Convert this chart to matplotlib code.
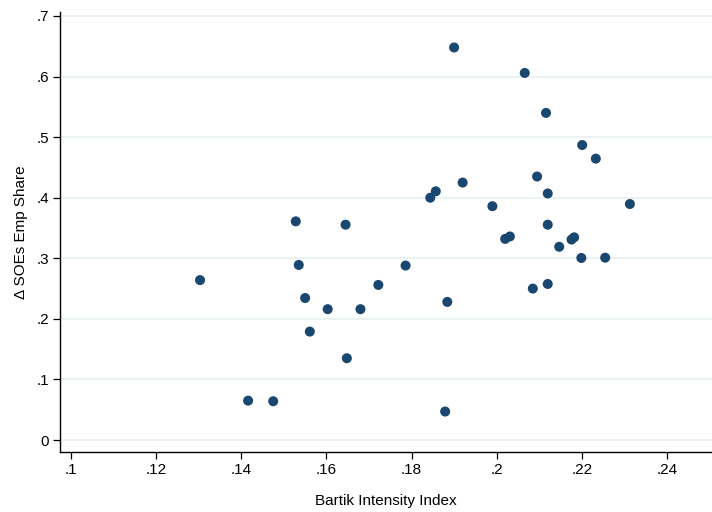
import matplotlib
matplotlib.use("Agg")
from matplotlib import pyplot as plt
import numpy as np

# Bartik intensity vs change in SOE employment share
bartik = [0.1900, 0.2066, 0.2116, 0.2201, 0.2233, 0.2095, 0.1920, 0.1857,
          0.1844, 0.2120, 0.1990, 0.2313, 0.1528, 0.1645, 0.2120, 0.2020,
          0.2031, 0.2176, 0.2182, 0.2147, 0.2199, 0.2255, 0.1535, 0.1786,
          0.1303, 0.1722, 0.2085, 0.2120, 0.1550, 0.1884, 0.1603, 0.1680,
          0.1561, 0.1648, 0.1416, 0.1475, 0.1879]
soe_share = [0.648, 0.606, 0.540, 0.487, 0.4645, 0.435, 0.425, 0.4106,
             0.400, 0.407, 0.386, 0.3896, 0.361, 0.3555, 0.3555, 0.332,
             0.336, 0.331, 0.3346, 0.319, 0.3005, 0.301, 0.289, 0.288,
             0.264, 0.256, 0.250, 0.2576, 0.2344, 0.228, 0.216, 0.216,
             0.179, 0.135, 0.065, 0.064, 0.047]

xticks = [0.10, 0.12, 0.14, 0.16, 0.18, 0.20, 0.22, 0.24]
xlabels = ['.1', '.12', '.14', '.16', '.18', '.2', '.22', '.24']
yticks = [0, 0.1, 0.2, 0.3, 0.4, 0.5, 0.6, 0.7]
ylabels = ['0', '.1', '.2', '.3', '.4', '.5', '.6', '.7']

plt.rcParams['font.family'] = ['Liberation Sans', 'DejaVu Sans']

fig = plt.figure(figsize=(7.12, 5.12), dpi=100)
# axes box in pixels: left 60, right 712, top 12, bottom 452
ax = fig.add_axes([60/712, (512-452)/512, 652/712, 440/512])

ax.scatter(bartik, soe_share, s=52, color='#1a476f', edgecolors='none', zorder=3)

ax.set_xlim(0.0974, 0.2506)
ax.set_ylim(-0.0198, 0.7066)
ax.set_xticks(xticks)
ax.set_xticklabels(xlabels)
ax.set_yticks(yticks)
ax.set_yticklabels(ylabels)

ax.grid(axis='y', color='#eaf2f3', linewidth=1.5)
ax.set_axisbelow(True)
for s in ['top', 'right']:
    ax.spines[s].set_visible(False)
for s in ['left', 'bottom']:
    ax.spines[s].set_linewidth(1.0)
    ax.spines[s].set_color('black')

ax.tick_params(axis='both', direction='out', length=5, width=0.9,
               labelsize=11, colors='black', pad=3)

ax.set_xlabel('Bartik Intensity Index', fontsize=11, labelpad=12)
ax.set_ylabel('\u0394 SOEs Emp Share', fontsize=11, labelpad=6)

fig.savefig('out.png', dpi=100)
